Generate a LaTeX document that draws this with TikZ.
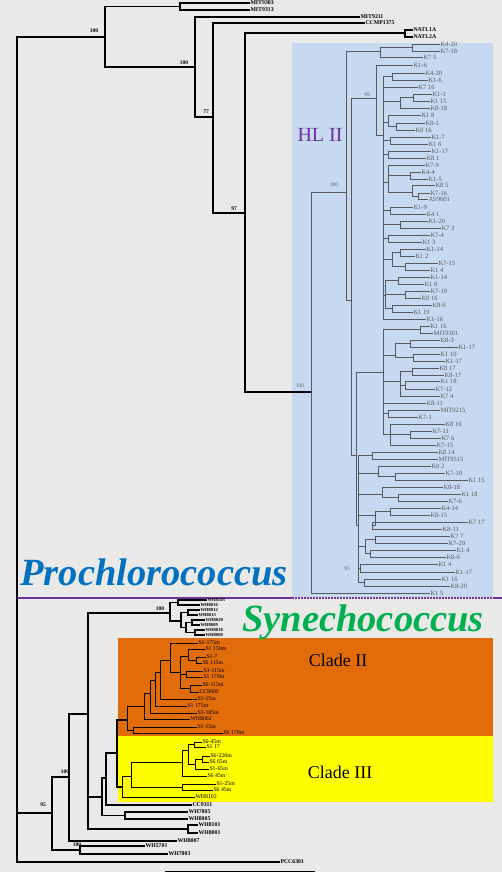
\documentclass[tikz,border=0pt]{standalone}
\usepackage{fontspec}
\setmainfont{Liberation Serif}
\definecolor{bgcol}{RGB}{233,233,231}
\definecolor{hlbox}{RGB}{198,217,240}
\definecolor{orbox}{RGB}{227,108,10}
\definecolor{yebox}{RGB}{255,255,0}
\definecolor{procol}{RGB}{0,112,192}
\definecolor{syncol}{RGB}{0,176,80}
\definecolor{hlcol}{RGB}{112,48,160}
\tikzset{
  llbr/.style={line width=1.8pt},
  hlbr/.style={draw=black!65, line width=0.7pt},
  sybr/.style={line width=1.5pt},
  clbr/.style={line width=0.8pt},
  hleaf/.style={anchor=west, inner sep=0.5pt, outer sep=0pt, text=black!65, font=\fontsize{6.5}{6.5}\selectfont},
  bleaf/.style={anchor=west, inner sep=0.5pt, outer sep=0pt, font=\fontsize{5.8}{5.8}\selectfont\bfseries},
  sleaf/.style={bleaf, font=\fontsize{4.6}{4.6}\selectfont\bfseries},
  cleaf/.style={anchor=west, inner sep=0.5pt, outer sep=0pt, font=\fontsize{5.8}{5.8}\selectfont},
  boot/.style={inner sep=0pt, font=\fontsize{5.5}{5.5}\selectfont},
  sepline/.style={draw=hlcol, line width=2.2pt},
  bigname/.style={font=\fontsize{38.5}{38.5}\selectfont\bfseries\itshape},
  cladename/.style={font=\fontsize{18}{18}\selectfont}
}
\begin{document}
\begin{tikzpicture}[x=1pt, y=-1pt, line join=miter]
\useasboundingbox (0,0) rectangle (502,872);
\fill[bgcol] (0,0) rectangle (502,872);

% coloured clade boxes
\fill[hlbox] (292,43) rectangle (493,597);
\fill[orbox] (118,638) rectangle (493,736);
\fill[yebox] (118,736) rectangle (493,802);

% Prochlorococcus / Synechococcus separator
\coordinate (pl0) at (18,598);
\coordinate (pl1) at (292,598);
\coordinate (pl2) at (493,598);
\coordinate (pl3) at (502,598);
\draw[sepline] (pl0) -- (pl1);
\draw[sepline, line width=1.1pt, dash pattern=on 1.5pt off 1.5pt] (pl1) -- (pl2);
\draw[sepline] (pl2) -- (pl3);

% internal nodes
\foreach \n/\x/\y in {R/17/450, P/105/37, P1/180/6.5, P2/195/67, P3/213/117, P4/245/213, P5/405/33,
  H/311/392, H1/346/192, A/380/51, a1/412/47.5, B/351/300, C/376/98, E/383/135,
  e1/392/76.5, e2/400/101, e2a/413/97.5, e3/388/122, e3a/396/126.5, e4/390/140.5, e5/388/154.5,
  e6/388/182, e6a/410/175.5, e6b/412/192, e6c/418/196, e7/390/210.5, e8/400/224.5, e9/388/238.5,
  e10/392/259, e10a/400/252.5, e10b/405/266.5, e11/385/295, e11a/398/280.5, e11b/405/294.5, e11c/392/308.5,
  D/356/455, F/383/372, f1/420/329.5, f2/395/355, f2a/410/343.5, f2b/413/357.5, f3/400/381,
  f3a/412/371.5, f3b/405/385, f4/388/413.5, f5/390/434, f5a/410/434.5,
  G/358/525, g1/372/455.5, g2/378/473, g2a/395/476.5, g3/382/494, g3a/398/497.5, g4/375/515,
  g4a/390/511.5, g4b/372/525.5, g5/365/546, g5a/375/539.5, g5b/370/553.5, g6/360/568, g7/364/582.5,
  S/52/813, S1/69/777, S2/80/850, S1a/88/714, T0/170/613, T1/178/602.5, T2/181/621, T3/188/612.5,
  T4/186/627.5, T5/192/622.5, T6/195/632.5, Q2/188/829, S1b/102/797, Q1/125/815.5, S1c/106/778, S1d/117/753,
  CII/127/720, C2z/133/730, C2a/144/706, C2b/150/693, C2c/155/680, C2d/160/672, C2e/170/660,
  C2f/180/672, C2g/188/656, C2j/196/660, C2h/186/674, C2i/190/688,
  CIII/122/787, C3a/131/776, C3b/182/762, C3c/188/750, C3g/194/744.5, C3d/195/764, C3f/202/759, C3e/182/787}
  \coordinate (\n) at (\x,\y);

% leaves: low-light and outgroup strains
\foreach \n/\y/\x/\t in {m1/3/250/MIT9303, m2/10/250/MIT9313, m3/17/360/MIT9211, m4/23/365/CCMP1375,
  m5/30/413/NATL1A, m6/37/413/NATL2A, zz/862/280/PCC6301,
  u1/805/192/CC9311, q1/812/188/WH7805,
  q2/819/188/WH8005, q3/825/198/WH8101, q4/833/198/WH8001, v1/841/177/WH8007, v2/846/145/WH5701,
  v3/854/168/WH7803}
  \node[bleaf] (\n) at (\x,\y) {\t};
\foreach \n/\y/\x/\t in {s1/600/207/WH8103, s2/605/200/WH8016, s3/610/200/WH8012, s4/615/198/WH8015,
  s5/620/205/WH8020, s6/625/200/WH8009, s7/630/205/WH8018, s8/635/205/WH8008}
  \node[sleaf] (\n) at (\x,\y) {\t};

% leaves: HL II clones
\foreach \n/\y/\x/\t in {k1/44/440/K4-20, k2/51/440/K7-18, k3/57/423/K7 5, k4/65/413/K1-6,
  k5/73/425/K4-20, k6/80/428/K1-6, k7/87/418/K7 16, k8/94/432/K1-1, k9/101/430/K1 15,
  k10/108/430/K8-18, k11/115/421/K1 8, k12/123/425/K8-1, k13/130/415/K8 16, k14/137/431/K1-7,
  k15/144/428/K1 6, k16/151/431/K1-17, k17/158/426/K8 1, k18/165/425/K7-9, k19/172/421/K4-4,
  k20/179/428/K1-5, k21/185/435/K8 5, k22/193/430/K7-16, k23/199/428/AS9601, k24/207/413/K1-9,
  k25/214/426/K4 1, k26/221/428/K1-20, k27/228/441/K7 3, k28/235/430/K7-4, k29/242/422/K1 3,
  k30/249/426/K1-14, k31/256/415/K1 2, k32/263/438/K7-15, k33/270/430/K1 4, k34/277/430/K1-14,
  k35/284/424/K1 8, k36/291/430/K7-19, k37/298/421/K8 16, k38/305/432/K8-6, k39/312/413/K1 19,
  k40/319/426/K1-16, k41/326/430/K1 16, k42/333/433/MIT9301, k43/340/440/K8-3, k44/347/458/K1-17,
  k45/354/440/K1 10, k46/361/445/K1-17, k47/368/439/K8 17, k48/375/444/K8-17, k49/381/440/K1 18,
  k50/389/435/K7-12, k51/396/440/K7 4, k52/403/426/K8-11, k53/410/440/MIT9215, k54/417/418/K7-1,
  k55/424/445/K8 16, k56/431/432/K7-11, k57/438/441/K7 6, k58/445/436/K7-15, k59/452/438/K8 14,
  k60/459/438/MIT9515, k61/466/431/K8 2, k62/473/445/K7-10, k63/480/468/K1 15, k64/487/443/K8-18,
  k65/494/461/K1 18, k66/501/448/K7-6, k67/508/441/K4-14, k68/515/430/K8-15, k69/522/468/K7 17,
  k70/529/442/K8-11, k71/536/450/K7 7, k72/543/448/K7-20, k73/550/456/K1 4, k74/557/446/K8-6,
  k75/564/438/K1 4, k76/572/455/K1-17, k77/579/441/K1 16, k78/586/450/K8-20, k79/593/430/K1 5}
  \node[hleaf] (\n) at (\x,\y) {\t};

% leaves: Synechococcus clades II and III
\foreach \n/\y/\x/\t in {c1/643/198/S1-175m, c2/649/205/S1 150m, c3/657/206/S1-7, c4/663/202/S6 115m,
  c5/671/203/S3-115m, c6/677/203/S1 170m, c7/685/202/S6-115m, c8/692/199/CC9605, c9/699/197/S1-15m,
  c10/706/187/S1 175m, c11/713/197/S3-185m, c12/719/190/WH8002, c13/727/197/S1-15m, c14/733/223/S6 170m,
  d1/742/202/S6-45m, d2/747/206/S1 17, d3/756/210/S6-220m, d4/762/209/S6 65m, d5/769/209/S1-65m,
  d6/776/207/S6 45m, d7/784/216/S1-25m, d8/790/213/S6 45m, d9/797/195/WH8102}
  \node[cleaf] (\n) at (\x,\y) {\t};

% branches
\foreach \p/\c in {R/P, R/S, R/zz, P/P1, P/P2, P1/m1, P1/m2, P2/m3, P2/P3, P3/m4, P3/P4,
  P4/P5, P4/H, P5/m5, P5/m6}
  \draw[llbr] (\p) |- (\c);
\foreach \p/\c in {H/H1, H/k79, H1/A, H1/B, A/a1, A/k3, a1/k1, a1/k2, B/C, B/D, C/k4, C/E,
  E/e1, E/k7, E/e2, E/e3, E/e4, E/e5, E/e6, E/e7, E/e8, E/e9, E/e10, E/e11, E/k40,
  e1/k5, e1/k6, e2/e2a, e2/k10, e2a/k8, e2a/k9, e3/k11, e3/e3a, e3a/k12, e3a/k13, e4/k14, e4/k15,
  e5/k16, e5/k17, e6/k18, e6/e6a, e6/e6b, e6a/k19, e6a/k20, e6b/k21, e6b/e6c, e6c/k22, e6c/k23,
  e7/k24, e7/k25, e8/k26, e8/k27, e9/k28, e9/k29, e10/e10a, e10/e10b, e10a/k30, e10a/k31,
  e10b/k32, e10b/k33, e11/e11a, e11/e11b, e11/e11c, e11a/k34, e11a/k35, e11b/k36, e11b/k37,
  e11c/k38, e11c/k39, D/F, D/G, F/f1, F/f2, F/f3, F/k52, F/f4, F/f5, f1/k41, f1/k42,
  f2/f2a, f2/f2b, f2a/k43, f2a/k44, f2b/k45, f2b/k46, f3/f3a, f3/f3b, f3/k51, f3a/k47, f3a/k48,
  f3b/k49, f3b/k50, f4/k53, f4/k54, f5/k55, f5/f5a, f5/k58, f5a/k56, f5a/k57,
  G/g1, G/g2, G/g3, G/g4, G/g5, G/g6, G/g7, g1/k59, g1/k60, g2/k61, g2/g2a, g2a/k62, g2a/k63,
  g3/k64, g3/g3a, g3a/k65, g3a/k66, g4/g4a, g4/g4b, g4a/k67, g4a/k68, g4b/k69, g4b/k70,
  g5/g5a, g5/g5b, g5a/k71, g5a/k72, g5b/k73, g5b/k74, g6/k75, g6/k76, g7/k77, g7/k78}
  \draw[hlbr] (\p) |- (\c);
\foreach \p/\c in {S/S1, S/S2, S1/S1a, S1/v1, S2/v2, S2/v3, S1a/T0, S1a/S1b, S1a/Q2,
  T0/T1, T0/T2, T1/s1, T1/s2, T2/T3, T2/T4, T3/s3, T3/s4, T4/T5, T4/T6, T5/s5, T5/s6, T6/s7, T6/s8,
  Q2/q3, Q2/q4, S1b/S1c, S1b/Q1, Q1/q1, Q1/q2, S1c/S1d, S1c/u1, S1d/CII, S1d/CIII}
  \draw[sybr] (\p) |- (\c);
\foreach \p/\c in {CII/C2a, CII/C2z, C2z/c13, C2z/c14, C2a/C2b, C2a/c12, C2b/C2c, C2b/c11,
  C2c/C2d, C2c/c10, C2d/C2e, C2d/c9, C2e/c1, C2e/C2f, C2f/C2g, C2f/C2h, C2f/C2i, C2g/c2, C2g/C2j,
  C2j/c3, C2j/c4, C2h/c5, C2h/c6, C2i/c7, C2i/c8,
  CIII/C3a, CIII/d9, C3a/C3b, C3a/C3e, C3b/C3c, C3b/d6, C3c/C3g, C3c/C3d, C3g/d1, C3g/d2,
  C3d/C3f, C3d/d5, C3f/d3, C3f/d4, C3e/d7, C3e/d8}
  \draw[clbr] (\p) |- (\c);

% bootstrap values
\foreach \n/\x/\y/\t in {bP/94/31/100, bP2/184/63/100, bP3/206/112/77, bP4/234/209/97,
  bT0/160/609/100, bS1/65/772/100, bS/43/805/95, bS2/77/845/100}
  \node[boot, font=\fontsize{5.5}{5.5}\selectfont\bfseries] (\n) at (\x,\y) {\t};
\foreach \n/\x/\y/\t in {bH/300/386/100, bH1/334/185/100, bC/367/95/99, bG/347/569/95}
  \node[boot, text=black!60] (\n) at (\x,\y) {\t};

% scale bar
\coordinate (sb0) at (165,871);
\coordinate (sb1) at (315,871);
\draw[line width=0.9pt] (sb0) -- (sb1);

% group names
\node[bigname, text=procol] (prolbl) at (154,572) {Prochlorococcus};
\node[bigname, text=syncol] (synlbl) at (363,622) {Synechococcus};
\node[font=\fontsize{20}{20}\selectfont, text=hlcol] (hllbl) at (320,135) {HL II};
\node[cladename] (c2lbl) at (338,660) {Clade II};
\node[cladename] (c3lbl) at (340,772) {Clade III};
\end{tikzpicture}
\end{document}
